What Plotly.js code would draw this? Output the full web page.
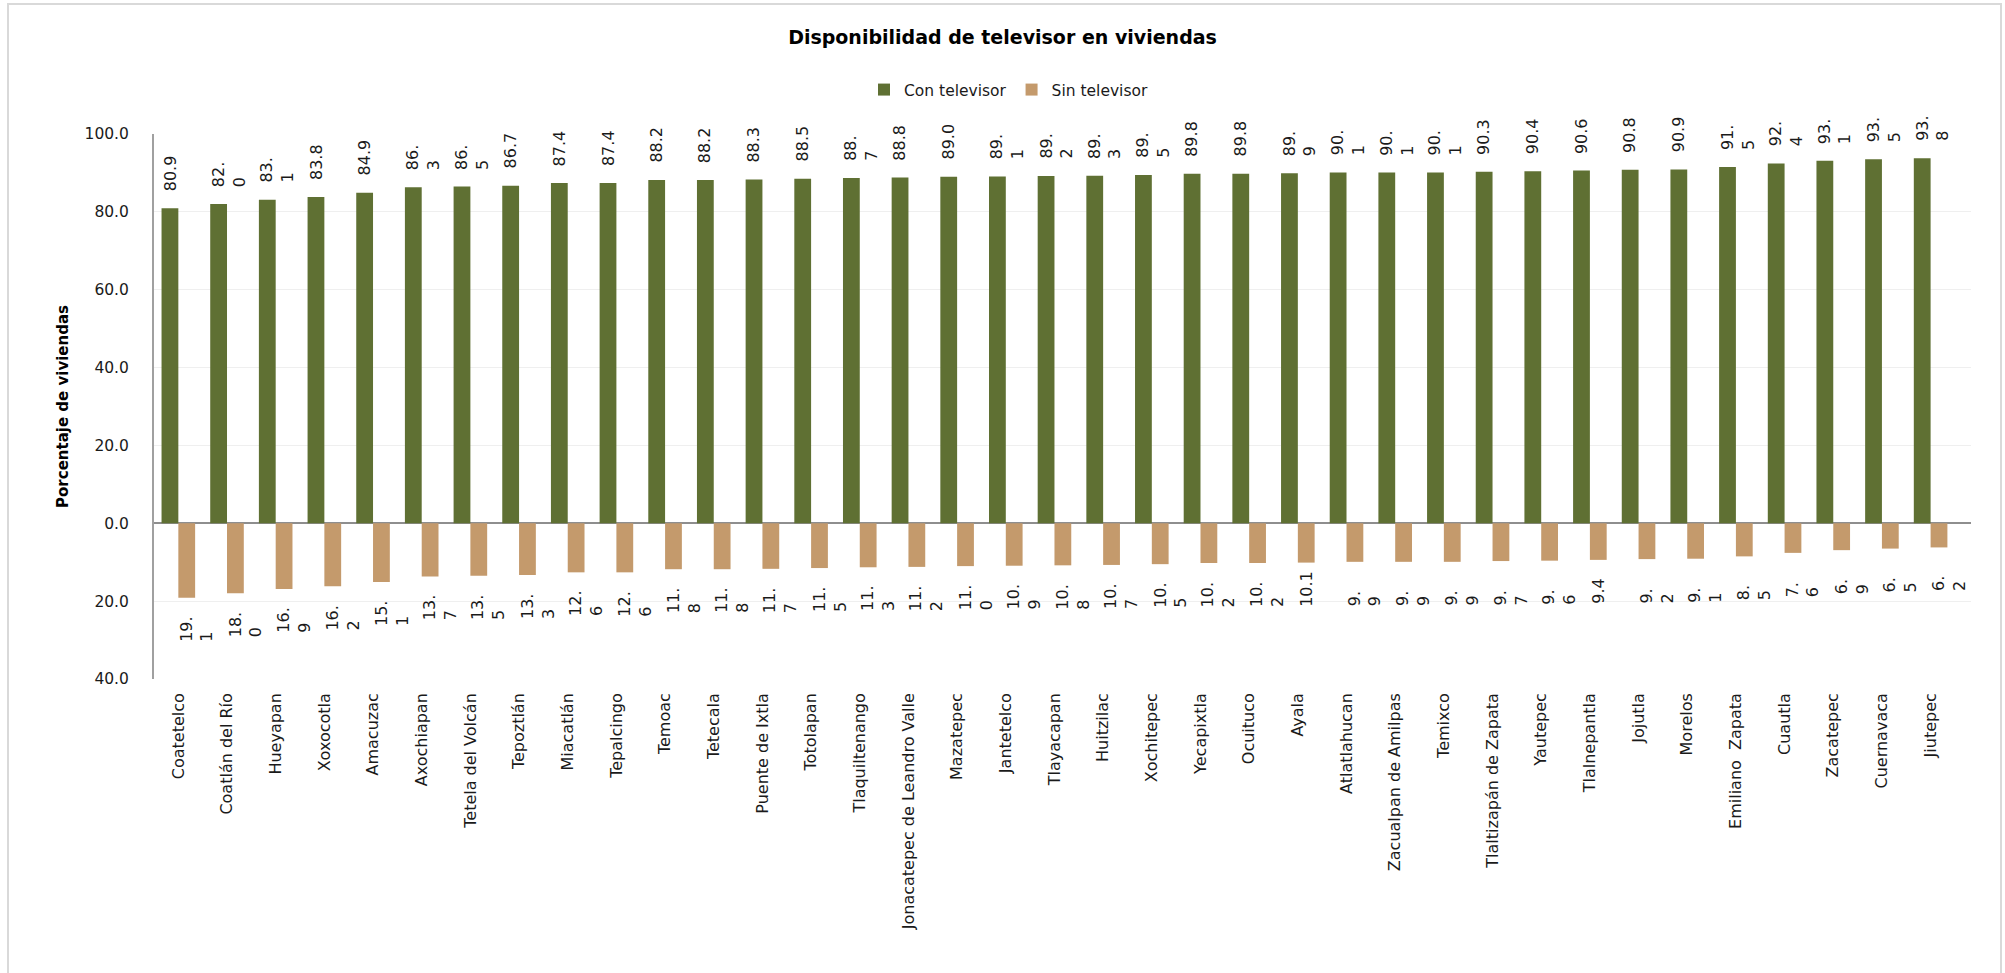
<!DOCTYPE html>
<html>
<head>
<meta charset="utf-8">
<script src="https://cdn.plot.ly/plotly-3.0.1.min.js"></script>
<style>
html,body{margin:0;padding:0;background:#ffffff;}
#chart{width:2005px;height:973px;}
</style>
</head>
<body>
<div id="chart"></div>
<script>
const municipios = ["Coatetelco","Coatlán del Río","Hueyapan","Xoxocotla","Amacuzac","Axochiapan","Tetela del Volcán","Tepoztlán","Miacatlán","Tepalcingo","Temoac","Tetecala","Puente de Ixtla","Totolapan","Tlaquiltenango","Jonacatepec de Leandro Valle","Mazatepec","Jantetelco","Tlayacapan","Huitzilac","Xochitepec","Yecapixtla","Ocuituco","Ayala","Atlatlahucan","Zacualpan de Amilpas","Temixco","Tlaltizapán de Zapata","Yautepec","Tlalnepantla","Jojutla","Morelos","Emiliano  Zapata","Cuautla","Zacatepec","Cuernavaca","Jiutepec"];

const conTelevisor = [80.9,82.0,83.1,83.8,84.9,86.3,86.5,86.7,87.4,87.4,88.2,88.2,88.3,88.5,88.7,88.8,89.0,89.1,89.2,89.3,89.5,89.8,89.8,89.9,90.1,90.1,90.1,90.3,90.4,90.6,90.8,90.9,91.5,92.4,93.1,93.5,93.8];

const sinTelevisor = [19.1,18.0,16.9,16.2,15.1,13.7,13.5,13.3,12.6,12.6,11.8,11.8,11.7,11.5,11.3,11.2,11.0,10.9,10.8,10.7,10.5,10.2,10.2,10.1,9.9,9.9,9.9,9.7,9.6,9.4,9.2,9.1,8.5,7.6,6.9,6.5,6.2];

// data label texts as they appear (some wrapped onto two lines)
const conEtiquetas = ["80.9","82.<br>0","83.<br>1","83.8","84.9","86.<br>3","86.<br>5","86.7","87.4","87.4","88.2","88.2","88.3","88.5","88.<br>7","88.8","89.0","89.<br>1","89.<br>2","89.<br>3","89.<br>5","89.8","89.8","89.<br>9","90.<br>1","90.<br>1","90.<br>1","90.3","90.4","90.6","90.8","90.9","91.<br>5","92.<br>4","93.<br>1","93.<br>5","93.<br>8"];

const sinEtiquetas = ["19.<br>1","18.<br>0","16.<br>9","16.<br>2","15.<br>1","13.<br>7","13.<br>5","13.<br>3","12.<br>6","12.<br>6","11.<br>8","11.<br>8","11.<br>7","11.<br>5","11.<br>3","11.<br>2","11.<br>0","10.<br>9","10.<br>8","10.<br>7","10.<br>5","10.<br>2","10.<br>2","10.1","9.<br>9","9.<br>9","9.<br>9","9.<br>7","9.<br>6","9.4","9.<br>2","9.<br>1","8.<br>5","7.<br>6","6.<br>9","6.<br>5","6.<br>2"];

const yTickValues = [-40,-20,0,20,40,60,80,100];
const yTickLabels = ["40.0","20.0","0.0","20.0","40.0","60.0","80.0","100.0"];

const serieCon = "Con televisor";
const serieSin = "Sin televisor";
const titulo = "Disponibilidad de televisor en viviendas";
const tituloY = "Porcentaje de viviendas";

const colorCon = "#5F7033";
const colorSin = "#C49A6C";
const FONT = "DejaVu Sans, Verdana, sans-serif";
const BARGAP = 0.31;

const traces = [
  {
    type: "bar",
    name: serieCon,
    x: municipios,
    y: conTelevisor,
    marker: {color: colorCon},
    hoverinfo: "x+y"
  },
  {
    type: "bar",
    name: serieSin,
    x: municipios,
    y: sinTelevisor.map(v => -v),
    marker: {color: colorSin},
    hoverinfo: "x+text",
    hovertext: sinTelevisor.map(v => v.toFixed(1))
  }
];

const off = (1 - BARGAP) / 4;
const annotations = [];
municipios.forEach((m, i) => {
  const lc = conEtiquetas[i].split("<br>").length;
  annotations.push({
    x: i - off, y: conTelevisor[i], xref: "x", yref: "y",
    text: conEtiquetas[i], showarrow: false, textangle: -90,
    xanchor: "center", yanchor: "bottom", yshift: 15, xshift: (lc - 1) * 10,
    align: "left", font: {family: FONT, size: 16, color: "#1a1a1a"}
  });
  const ls = sinEtiquetas[i].split("<br>").length;
  annotations.push({
    x: i + off, y: -sinTelevisor[i], xref: "x", yref: "y",
    text: sinEtiquetas[i], showarrow: false, textangle: -90,
    xanchor: "center", yanchor: "bottom", yshift: -46, xshift: (ls - 1) * 10,
    align: "left", font: {family: FONT, size: 16, color: "#1a1a1a"}
  });
});

const layout = {
  width: 2005,
  height: 973,
  paper_bgcolor: "#ffffff",
  plot_bgcolor: "#ffffff",
  margin: {l: 154, r: 34, t: 134, b: 294, pad: 0},
  font: {family: FONT, color: "#1a1a1a"},
  title: {
    text: "<b>" + titulo + "</b>",
    font: {family: FONT, size: 19, color: "#000000"},
    xref: "container", x: 0.5, xanchor: "center",
    yref: "container", y: 1 - 37 / 973, yanchor: "middle"
  },
  barmode: "group",
  bargap: BARGAP,
  bargroupgap: 0,
  showlegend: true,
  legend: {
    orientation: "h",
    xref: "container", x: 0.503, xanchor: "center",
    yref: "container", y: 1 - 90 / 973, yanchor: "middle",
    font: {family: FONT, size: 15.5, color: "#1a1a1a"},
    itemwidth: 30,
    traceorder: "normal"
  },
  xaxis: {
    type: "category",
    tickangle: -90,
    tickfont: {family: FONT, size: 16, color: "#1a1a1a"},
    showgrid: false,
    showline: false,
    zeroline: false,
    ticks: "",
    ticklabelstandoff: 10,
    automargin: false
  },
  yaxis: {
    range: [-40, 100],
    tickvals: yTickValues,
    ticktext: yTickLabels,
    tickfont: {family: FONT, size: 15.5, color: "#1a1a1a"},
    showgrid: true,
    gridcolor: "#EFEFEF",
    gridwidth: 1,
    zeroline: true,
    zerolinecolor: "#8E8E8E",
    zerolinewidth: 2,
    showline: true,
    linecolor: "#A0A0A0",
    linewidth: 2,
    ticks: "",
    ticklabelstandoff: 20,
    automargin: false,
    title: {
      text: "<b>" + tituloY + "</b>",
      font: {family: FONT, size: 15, color: "#000000"},
      standoff: 12
    }
  },
  annotations: annotations,
  shapes: [{
    type: "rect", xref: "paper", yref: "paper",
    x0: (8 - 154) / 1817, x1: (2001 - 154) / 1817,
    y0: (679 - 980) / 545, y1: (679 - 4) / 545,
    line: {color: "#D9D9D9", width: 2},
    fillcolor: "rgba(0,0,0,0)",
    layer: "below"
  }]
};

Plotly.newPlot("chart", traces, layout, {displayModeBar: false, staticPlot: true});
</script>
</body>
</html>
